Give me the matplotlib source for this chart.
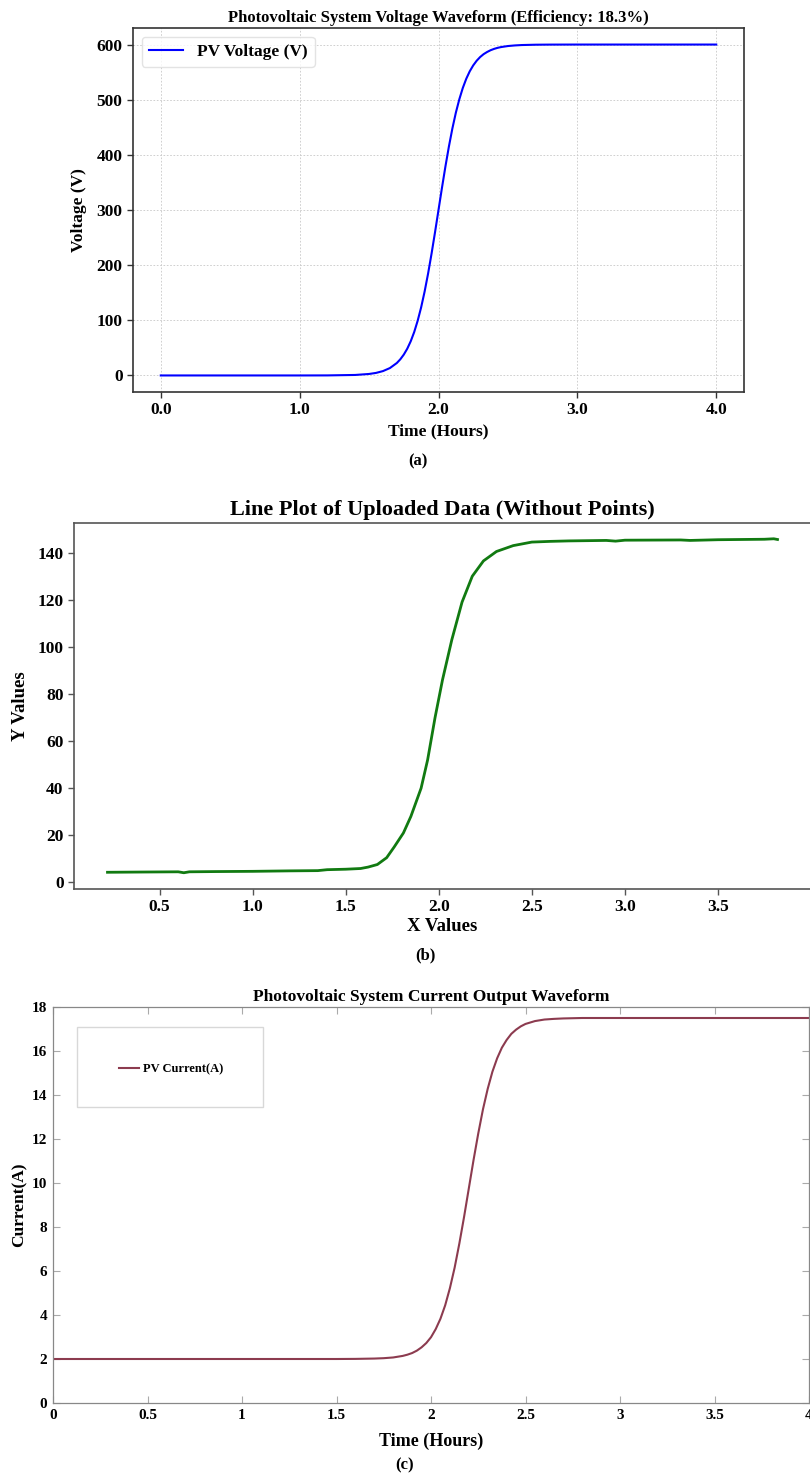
import matplotlib
matplotlib.use("Agg")
import matplotlib.pyplot as plt
from matplotlib.patches import Rectangle

# (a) PV voltage
time_a = [0.0, 0.5, 1.0, 1.2, 1.4, 1.5, 1.55, 1.6, 1.65, 1.7, 1.725, 1.75, 1.775, 1.8,
          1.825, 1.85, 1.875, 1.9, 1.925, 1.95, 1.975, 2.0, 2.025, 2.05, 2.075, 2.1,
          2.125, 2.15, 2.175, 2.2, 2.225, 2.25, 2.275, 2.3, 2.325, 2.35, 2.375, 2.4,
          2.425, 2.45, 2.5, 2.55, 2.6, 2.7, 2.8, 3.0, 3.5, 4.0]
volt_a = [0.0, 0.0, 0.0, 0.1, 0.9, 2.7, 4.6, 7.9, 13.4, 22.6, 29.3, 37.8, 48.5, 62.0,
          78.7, 99.2, 123.5, 152.1, 184.7, 220.9, 259.7, 300.0, 340.3, 379.1, 415.2, 447.9,
          476.5, 500.8, 521.3, 538.0, 551.5, 562.2, 570.7, 577.4, 582.6, 586.5, 589.7, 592.1,
          594.0, 595.4, 597.3, 598.4, 599.1, 599.7, 599.9, 600.0, 600.0, 600.0]

# (b) uploaded data
x_b = [0.22, 0.4, 0.6, 0.63, 0.66, 0.8, 1.0, 1.2, 1.35, 1.4, 1.5, 1.58, 1.62, 1.67,
       1.72, 1.76, 1.81, 1.85, 1.905, 1.94, 1.98, 2.02, 2.07, 2.125, 2.18, 2.24, 2.31,
       2.4, 2.5, 2.6, 2.7, 2.9, 2.95, 3.0, 3.3, 3.35, 3.5, 3.75, 3.8, 3.82]
y_b = [4.3, 4.4, 4.5, 4.1, 4.5, 4.6, 4.7, 4.9, 5.0, 5.4, 5.6, 5.9, 6.5, 7.6,
       10.5, 15.0, 21.0, 28.0, 40.0, 52.0, 70.0, 86.0, 103.0, 119.0, 130.0, 136.5, 140.5,
       143.0, 144.5, 144.8, 145.0, 145.2, 144.9, 145.3, 145.4, 145.2, 145.5, 145.7, 145.9, 145.6]

# (c) PV current
time_c = [0.0, 1.0, 1.5, 1.6, 1.7, 1.75, 1.8, 1.85, 1.875, 1.9, 1.925, 1.95, 1.975, 2.0,
          2.025, 2.05, 2.075, 2.1, 2.125, 2.15, 2.175, 2.2, 2.225, 2.25, 2.275, 2.3, 2.325,
          2.35, 2.375, 2.4, 2.425, 2.45, 2.475, 2.5, 2.55, 2.6, 2.65, 2.7, 2.8, 3.0, 4.0]
curr_c = [2.0, 2.0, 2.0, 2.005, 2.02, 2.037, 2.07, 2.14, 2.196, 2.27, 2.379, 2.53, 2.725, 2.99,
          3.36, 3.83, 4.44, 5.22, 6.15, 7.25, 8.46, 9.75, 11.04, 12.25, 13.35, 14.28, 15.06,
          15.67, 16.15, 16.5, 16.78, 16.97, 17.12, 17.23, 17.36, 17.43, 17.46, 17.48, 17.5, 17.5, 17.5]

plt.rcParams['font.family'] = ['Liberation Serif', 'DejaVu Serif']
plt.rcParams['font.weight'] = 'bold'
plt.rcParams['axes.labelweight'] = 'bold'
plt.rcParams['axes.titleweight'] = 'bold'

W, H = 810, 1480
fig = plt.figure(figsize=(W / 100, H / 100), dpi=100)


def px_box(l, t, r, b):
    return [l / W, 1 - b / H, (r - l) / W, (b - t) / H]


# ---- panel a ----
ax1 = fig.add_axes(px_box(133, 28, 744, 392))
ax1.plot(time_a, volt_a, color='blue', lw=1.5, label='PV Voltage (V)')
ax1.set_xlim(-0.2, 4.2)
ax1.set_ylim(-30, 630)
ax1.set_xticks([0, 1, 2, 3, 4])
ax1.set_xticklabels(['0.0', '1.0', '2.0', '3.0', '4.0'])
ax1.set_yticks([0, 100, 200, 300, 400, 500, 600])
ax1.grid(True, color='#c8c8c8', ls='--', lw=0.6, dashes=(2, 2))
ax1.tick_params(labelsize=12.5, length=4, width=1, color='#333333')
for s in ax1.spines.values():
    s.set_color('#333333')
    s.set_linewidth(1.2)
ax1.set_title('Photovoltaic System Voltage Waveform (Efficiency: 18.3%)', fontsize=12, pad=4)
ax1.set_xlabel('Time (Hours)', fontsize=12.5)
ax1.set_ylabel('Voltage (V)', fontsize=12.5)
ax1.xaxis.set_label_coords(0.5, -0.085)
ax1.yaxis.set_label_coords(-0.075, 0.5)
ax1.legend(loc='upper left', fontsize=12.5, edgecolor='#dddddd')
fig.text(418 / W, 1 - 461 / H, '(a)', ha='center', va='center', fontsize=12)

# ---- panel b ----
ax2 = fig.add_axes(px_box(74, 523, 811, 889))
ax2.plot(x_b, y_b, color='#117a11', lw=2)
ax2.set_xlim(0.04, 4.0)
ax2.set_ylim(-2.8, 152.6)
ax2.set_xticks([0.5, 1.0, 1.5, 2.0, 2.5, 3.0, 3.5])
ax2.set_yticks([0, 20, 40, 60, 80, 100, 120, 140])
ax2.tick_params(labelsize=12.5, length=4, width=1, color='#555555')
for s in ax2.spines.values():
    s.set_color('#555555')
    s.set_linewidth(1.2)
ax2.set_title('Line Plot of Uploaded Data (Without Points)', fontsize=16, pad=6)
ax2.set_xlabel('X Values', fontsize=13.5)
ax2.set_ylabel('Y Values', fontsize=13.5)
ax2.xaxis.set_label_coords(0.5, -0.08)
ax2.yaxis.set_label_coords(-0.061, 0.5)
fig.text(425 / W, 1 - 955 / H, '(b)', ha='center', va='center', fontsize=12)

# ---- panel c ----
ax3 = fig.add_axes(px_box(53, 1007, 809, 1403))
ax3.plot(time_c, curr_c, color='#8c3b4f', lw=1.5, label='PV Current(A)')
ax3.set_xlim(0, 4)
ax3.set_ylim(0, 18)
ax3.set_xticks([0, 0.5, 1, 1.5, 2, 2.5, 3, 3.5, 4])
ax3.set_xticklabels(['0', '0.5', '1', '1.5', '2', '2.5', '3', '3.5', '4'])
ax3.set_yticks(range(0, 19, 2))
ax3.tick_params(direction='in', top=True, right=True, labelsize=11, length=5,
                width=0.8, color='#aaaaaa', pad=4)
for s in ax3.spines.values():
    s.set_color('#888888')
    s.set_linewidth(0.9)
ax3.set_title('Photovoltaic System Current Output Waveform', fontsize=12.5, pad=4)
ax3.set_xlabel('Time (Hours)', fontsize=13)
ax3.set_ylabel('Current(A)', fontsize=12.5)
ax3.xaxis.set_label_coords(0.5, -0.075)
ax3.yaxis.set_label_coords(-0.034, 0.5)
# legend box drawn separately (MATLAB-style oversized frame)
ax3.add_patch(Rectangle((0.0317, 0.747), 0.246, 0.202, transform=ax3.transAxes,
                        facecolor='white', edgecolor='#d8d8d8', lw=1, zorder=3))
leg = ax3.legend(loc='center left', bbox_to_anchor=(0.087, 0.843), borderaxespad=0,
                 borderpad=0, fontsize=9, handlelength=1.6, handletextpad=0.3,
                 frameon=False)
leg.set_zorder(4)
fig.text(405 / W, 1 - 1465 / H, '(c)', ha='center', va='center', fontsize=12)

fig.savefig('out.png', dpi=100)
